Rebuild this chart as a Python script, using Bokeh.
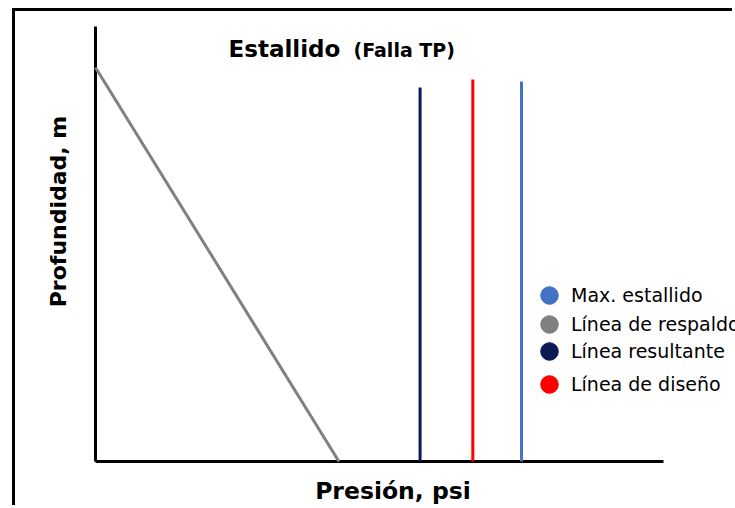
from bokeh.plotting import figure
from bokeh.models import Range1d, Legend, LegendItem, Label
from bokeh.embed import file_html
from bokeh.resources import INLINE

# ---- data (schematic values) ----
axis_psi = [0, 7000]             # Presión, psi (axis extent)
axis_m = [0, 4350]               # Profundidad, m (depth grows downward)

respaldo_psi = [0, 3000]         # Línea de respaldo
respaldo_m = [410, 4350]
resultante_psi = [4000, 4000]    # Línea resultante
resultante_m = [610, 4350]
diseno_psi = [4650, 4650]        # Línea de diseño
diseno_m = [530, 4350]
max_psi = [5250, 5250]           # Max. estallido
max_m = [550, 4350]

legend_labels = ["Max. estallido", "Línea de respaldo", "Línea resultante", "Línea de diseño"]

C_MAX = "#4472C4"
C_RESP = "#808080"
C_RES = "#0B1A55"
C_DIS = "#FF0000"

# ---- layout geometry (pixels on the canvas) ----
W, H = 720, 497
AX_L, AX_R = 80, 648      # x axis extent on canvas
AX_T, AX_B = 15, 450      # y axis extent on canvas
ppx = (AX_R - AX_L) / (axis_psi[1] - axis_psi[0])
ppy = (AX_B - AX_T) / (axis_m[1] - axis_m[0])
x_rng = Range1d(axis_psi[0] - AX_L / ppx, axis_psi[1] + (W - AX_R) / ppx)
y_rng = Range1d(axis_m[1] + (H - AX_B) / ppy, axis_m[0] - AX_T / ppy)

p = figure(width=W, height=H, x_range=x_rng, y_range=y_rng,
           x_axis_location=None, y_axis_location=None,
           output_backend="svg", toolbar_location=None, min_border=0,
           background_fill_color="white", border_fill_color="white",
           styles={"margin-left": "12px", "margin-top": "8px",
                   "border-left": "3px solid black",
                   "border-top": "3px solid black"})
p.outline_line_color = None
p.grid.visible = False

# axes lines
p.segment(x0=[axis_psi[0], axis_psi[0]], y0=[axis_m[1], axis_m[0]],
          x1=[axis_psi[1], axis_psi[0]], y1=[axis_m[1], axis_m[1]],
          line_color="black", line_width=3)

p.line(respaldo_psi, respaldo_m, line_color=C_RESP, line_width=3)
p.line(resultante_psi, resultante_m, line_color=C_RES, line_width=3)
p.line(diseno_psi, diseno_m, line_color=C_DIS, line_width=3)
p.line(max_psi, max_m, line_color=C_MAX, line_width=3)

# legend swatches (circle markers)
r_max = p.scatter(max_psi, max_m, color=C_MAX, visible=False)
r_resp = p.scatter(respaldo_psi, respaldo_m, color=C_RESP, visible=False)
r_res = p.scatter(resultante_psi, resultante_m, color=C_RES, visible=False)
r_dis = p.scatter(diseno_psi, diseno_m, color=C_DIS, visible=False)

GL = 44
legend_cy = [284, 313, 340, 373]   # row centres on the canvas
for lab, r, cy in zip(legend_labels, [r_max, r_resp, r_res, r_dis], legend_cy):
    lg = Legend(items=[LegendItem(label=lab, renderers=[r])],
                location=(512, H - (cy + GL // 2)), glyph_width=GL, glyph_height=GL,
                label_standoff=0, padding=0, margin=0,
                border_line_color=None, background_fill_alpha=0,
                label_text_font="DejaVu Sans", label_text_font_size="19px",
                label_text_color="black")
    p.add_layout(lg)

# titles and axis labels
p.add_layout(Label(x=(228 - 15 - AX_L) / ppx, y=220, text="Estallido",
                   text_font="DejaVu Sans", text_font_style="bold",
                   text_font_size="23px", text_color="black",
                   text_baseline="middle", text_align="left"))
p.add_layout(Label(x=(353 - 15 - AX_L) / ppx, y=230, text="(Falla TP)",
                   text_font="DejaVu Sans", text_font_style="bold",
                   text_font_size="19px", text_color="black",
                   text_baseline="middle", text_align="left"))
p.add_layout(Label(x=3666, y=4640, text="Presión, psi",
                   text_font="DejaVu Sans", text_font_style="bold",
                   text_font_size="23.5px", text_color="black",
                   text_baseline="middle", text_align="center"))
p.add_layout(Label(x=-452, y=1850, text="Profundidad, m", angle=1.5708,
                   text_font="DejaVu Sans", text_font_style="bold",
                   text_font_size="22px", text_color="black",
                   text_baseline="middle", text_align="center"))

open("out.html", "w").write(file_html(p, INLINE))
